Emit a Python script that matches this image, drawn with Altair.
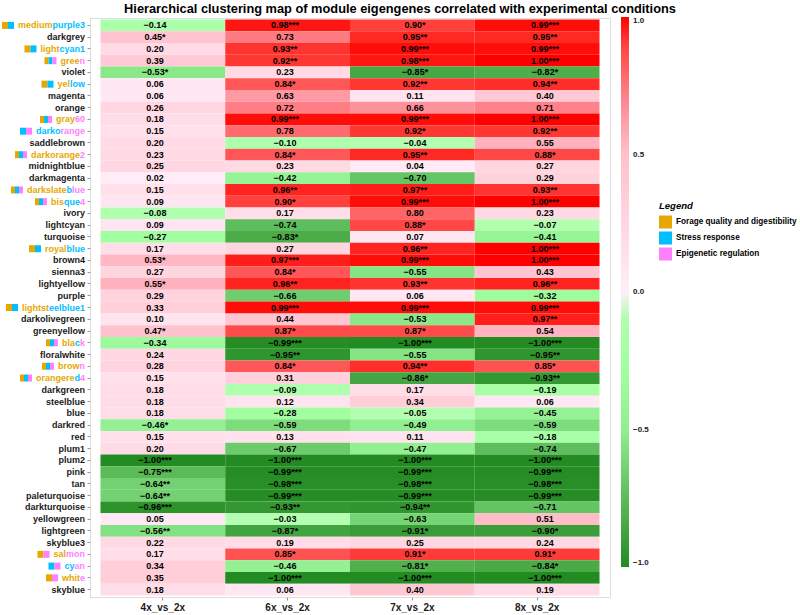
import altair as alt
import pandas as pd

# ---------------------------------------------------------------- data
modules = [
    "mediumpurple3", "darkgrey", "lightcyan1", "green", "violet", "yellow",
    "magenta", "orange", "gray60", "darkorange", "saddlebrown", "darkorange2",
    "midnightblue", "darkmagenta", "darkslateblue", "bisque4", "ivory",
    "lightcyan", "turquoise", "royalblue", "brown4", "sienna3", "lightyellow",
    "purple", "lightsteelblue1", "darkolivegreen", "greenyellow", "black",
    "floralwhite", "brown", "orangered4", "darkgreen", "steelblue", "blue",
    "darkred", "red", "plum1", "plum2", "pink", "tan", "paleturquoise",
    "darkturquoise", "yellowgreen", "lightgreen", "skyblue3", "salmon", "cyan",
    "white", "skyblue",
]
conditions = ["4x_vs_2x", "6x_vs_2x", "7x_vs_2x", "8x_vs_2x"]

r_4x = [-0.14, 0.45, 0.20, 0.39, -0.53, 0.06, 0.06, 0.26, 0.18, 0.15, 0.20,
        0.23, 0.25, 0.02, 0.15, 0.09, -0.08, 0.09, -0.27, 0.17, 0.53, 0.27,
        0.55, 0.29, 0.33, 0.10, 0.47, -0.34, 0.24, 0.28, 0.15, 0.18, 0.18,
        0.18, -0.46, 0.15, 0.20, -1.00, -0.75, -0.64, -0.64, -0.96, 0.05,
        -0.56, 0.22, 0.17, 0.34, 0.35, 0.18]
r_6x = [0.98, 0.73, 0.93, 0.92, 0.23, 0.84, 0.63, 0.72, 0.99, 0.78, -0.10,
        0.84, 0.23, -0.42, 0.96, 0.90, 0.17, -0.74, -0.83, 0.27, 0.97, 0.84,
        0.96, -0.66, 0.99, 0.44, 0.87, -0.99, -0.95, 0.84, 0.31, -0.09, 0.12,
        -0.28, -0.59, 0.13, -0.67, -1.00, -0.99, -0.98, -0.99, -0.93, -0.03,
        -0.87, 0.19, 0.85, -0.46, -1.00, 0.06]
r_7x = [0.90, 0.95, 0.99, 0.98, -0.85, 0.92, 0.11, 0.66, 0.99, 0.92, -0.04,
        0.95, 0.04, -0.70, 0.97, 0.99, 0.80, 0.88, 0.07, 0.96, 0.99, -0.55,
        0.93, 0.06, 0.99, -0.53, 0.87, -1.00, -0.55, 0.94, -0.86, 0.17, 0.34,
        -0.05, -0.49, 0.11, -0.47, -1.00, -0.99, -0.98, -0.99, -0.94, -0.63,
        -0.91, 0.25, 0.91, -0.81, -1.00, 0.40]
r_8x = [0.99, 0.95, 0.99, 1.00, -0.82, 0.94, 0.40, 0.71, 1.00, 0.92, 0.55,
        0.88, 0.27, 0.29, 0.93, 1.00, 0.23, -0.07, -0.41, 1.00, 1.00, 0.43,
        0.96, -0.32, 0.99, 0.97, 0.54, -1.00, -0.95, 0.85, -0.93, -0.19, 0.06,
        -0.45, -0.59, -0.18, -0.74, -1.00, -0.99, -0.98, -0.99, -0.71, 0.51,
        -0.90, 0.24, 0.91, -0.84, -1.00, 0.19]

sig_4x = ["", "*", "", "", "*", "", "", "", "", "", "", "", "", "", "", "",
          "", "", "", "", "*", "", "*", "", "", "", "*", "", "", "", "", "",
          "", "", "*", "", "", "***", "***", "**", "**", "***", "", "**", "",
          "", "", "", ""]
sig_6x = ["***", "", "**", "**", "", "*", "", "", "***", "", "", "*", "", "",
          "**", "*", "", "", "*", "", "***", "*", "**", "", "***", "", "*",
          "***", "**", "*", "", "", "", "", "", "", "", "***", "***", "***",
          "***", "**", "", "*", "", "*", "", "***", ""]
sig_7x = ["*", "**", "***", "***", "*", "**", "", "", "***", "*", "", "**", "",
          "", "**", "***", "", "*", "", "**", "***", "", "**", "", "***", "",
          "*", "***", "", "**", "*", "", "", "", "", "", "", "***", "***",
          "***", "***", "**", "", "*", "", "*", "*", "***", ""]
sig_8x = ["***", "**", "***", "***", "*", "**", "", "", "***", "**", "", "*",
          "", "", "**", "***", "", "", "", "***", "***", "", "**", "", "***",
          "**", "", "***", "**", "*", "**", "", "", "", "", "", "", "***",
          "***", "***", "***", "", "", "*", "", "*", "*", "***", ""]

# functional categories of modules
cat_names = ["Forage quality and digestibility", "Stress response",
             "Epigenetic regulation"]
cat_colors = ["#E6A700", "#00BFFF", "#FF80FF"]
F, S, E = cat_names

module_groups = {
    "mediumpurple3": [F, S], "lightcyan1": [F, S], "green": [F, S, E],
    "yellow": [F, S], "gray60": [F, S, E], "darkorange": [S, E],
    "darkorange2": [F, S, E], "darkslateblue": [F, S, E],
    "bisque4": [F, S, E], "royalblue": [F, S], "lightsteelblue1": [F, S],
    "black": [F, S, E], "brown": [F, S, E], "orangered4": [F, S, E],
    "salmon": [F, E], "cyan": [S, E], "white": [F, E],
}

# coloured pieces of the module names
label_parts = {
    "mediumpurple3": [("medium", F), ("purple3", S)],
    "lightcyan1": [("light", F), ("cyan1", S)],
    "green": [("gree", F), ("n", E)],
    "yellow": [("yel", F), ("low", S)],
    "gray60": [("gray", F), ("60", E)],
    "darkorange": [("darko", S), ("range", E)],
    "darkorange2": [("darkorange", F), ("2", E)],
    "darkslateblue": [("darkslate", F), ("b", S), ("lue", E)],
    "bisque4": [("bis", F), ("que", S), ("4", E)],
    "royalblue": [("royal", F), ("blue", S)],
    "lightsteelblue1": [("lightst", F), ("eelblue1", S)],
    "black": [("bla", F), ("c", S), ("k", E)],
    "brown": [("brow", F), ("n", E)],
    "orangered4": [("orangere", F), ("d", S), ("4", E)],
    "salmon": [("sal", F), ("mon", E)],
    "cyan": [("cy", S), ("an", E)],
    "white": [("whit", F), ("e", E)],
}

# ---------------------------------------------------------------- layout helpers
FONT = "Liberation Sans, Arial, Helvetica, sans-serif"
LABEL_SIZE = 9
LABEL_X = -5          # right edge of the row labels, relative to the panel
SWATCH_GAP = 4
SWATCH_W = 12
PLAIN = "#1A1A1A"

# Arial/Liberation Sans Bold advance widths (per 1000 em)
_adv = {c: 556 for c in "0123456789acekosvxy"}
_adv.update({"b": 611, "d": 611, "g": 611, "h": 611, "n": 611, "o": 611,
             "p": 611, "q": 611, "u": 611, "f": 333, "t": 333, "r": 389,
             "i": 278, "j": 278, "l": 278, "m": 889, "w": 778, "z": 500})


def text_width(s, size=LABEL_SIZE):
    return sum(_adv.get(ch, 556) for ch in s) * size / 1000.0


color_of = dict(zip(cat_names, cat_colors))

cells = []
for col, rs, ss in zip(conditions, [r_4x, r_6x, r_7x, r_8x],
                       [sig_4x, sig_6x, sig_7x, sig_8x]):
    for m, r, s in zip(modules, rs, ss):
        cells.append({"module": m, "condition": col, "r": r, "sig": s})
cells = pd.DataFrame(cells)

plain_labels = pd.DataFrame({"module": [m for m in modules
                                        if m not in label_parts]})

# multi-coloured names are written piece by piece, left to right
piece_rows = []
for m, parts in label_parts.items():
    x = LABEL_X - text_width(m)
    for txt, cat in parts:
        piece_rows.append({"module": m, "text": txt, "color": color_of[cat],
                           "px": x})
        x += text_width(txt)
pieces = pd.DataFrame(piece_rows)

swatch_rows = []
for m, groups in module_groups.items():
    right = LABEL_X - text_width(m) - SWATCH_GAP
    left = right - SWATCH_W
    step = SWATCH_W / len(groups)
    for i, g in enumerate(groups):
        swatch_rows.append({"module": m, "group": g,
                            "x0": left + i * step, "x1": left + (i + 1) * step})
swatches = pd.DataFrame(swatch_rows)

W, H = 520, 579

# ---------------------------------------------------------------- encodings
x_scale = alt.Scale(domain=conditions, paddingInner=0, paddingOuter=0.084)
X = alt.X("condition:N", scale=x_scale,
          axis=alt.Axis(title=None, labelAngle=0, domain=False, tickSize=3,
                        tickColor="#999999", labelFont=FONT, labelFontSize=10,
                        labelFontWeight="bold", labelColor="#1A1A1A",
                        labelPadding=2))
X_plain = alt.X("condition:N", scale=x_scale, axis=None)
Y = alt.Y("module:N",
          scale=alt.Scale(domain=modules, paddingInner=0, paddingOuter=0.13),
          axis=alt.Axis(title=None, labels=False, domain=False, tickSize=3,
                        tickColor="#999999"))

# pixel-space x for the row-label pieces and category swatches
px_scale = alt.Scale(domain=[0, W], range=[0, W], zero=False, nice=False)

heat = alt.Chart(cells).mark_rect().encode(
    x=X, y=Y,
    color=alt.Color(
        "r:Q",
        scale=alt.Scale(domain=[-1, -0.5, 0, 0.5, 1],
                        range=["#228B22", "#90EE90", "#FFFFFF", "#FFC0CB",
                               "#FF0000"]),
        legend=alt.Legend(orient="none", legendX=531, legendY=-1,
                          direction="vertical", title=None,
                          gradientLength=550, gradientThickness=8,
                          gradientStrokeWidth=0,
                          values=[1, 0.5, 0, -0.5, -1], format=".1f",
                          labelFont=FONT, labelFontSize=8,
                          labelFontWeight="bold", labelColor="#1A1A1A",
                          labelOffset=4)),
)

values = alt.Chart(cells).transform_calculate(
    lab="format(datum.r, '.2f') + datum.sig"
).mark_text(font=FONT, fontSize=9, fontWeight="bold", color="#000000",
            baseline="middle").encode(x=X_plain, y=Y, text="lab:N")

swatch = alt.Chart(swatches).mark_bar(size=7).encode(
    x=alt.X("x0:Q", scale=px_scale, axis=None), x2="x1:Q", y=Y,
    fill=alt.Fill(
        "group:N",
        scale=alt.Scale(domain=cat_names, range=cat_colors),
        legend=alt.Legend(orient="none", legendX=569, legendY=183,
                          title="Legend", titleFont=FONT, titleFontSize=9.5,
                          titleFontStyle="italic", titleFontWeight="bold",
                          titleColor="#000000", titlePadding=5,
                          symbolType="square", symbolSize=169,
                          symbolStrokeWidth=0, symbolOpacity=1,
                          labelFont=FONT, labelFontSize=8.2,
                          labelFontWeight="bold", labelColor="#000000",
                          labelOffset=4, labelLimit=400, rowPadding=3)),
)

plain = alt.Chart(plain_labels).mark_text(
    font=FONT, fontSize=LABEL_SIZE, fontWeight="bold", align="right",
    baseline="middle", color=PLAIN
).encode(x=alt.value(LABEL_X), y=Y, text="module:N")

piece_layers = []
for col in cat_colors:
    sub = pieces[pieces["color"] == col]
    piece_layers.append(
        alt.Chart(sub).mark_text(
            font=FONT, fontSize=LABEL_SIZE, fontWeight="bold",
            align="left", baseline="middle", color=col
        ).encode(x=alt.X("px:Q", scale=px_scale, axis=None), y=Y,
                 text="text:N")
    )

chart = alt.layer(heat, values, swatch, plain, *piece_layers).resolve_scale(
    x="independent"
).properties(
    width=W, height=H,
    autosize=alt.AutoSizeParams(type="none"),
    padding={"left": 90, "top": 18, "right": 190, "bottom": 18},
    title=alt.Title(
        "Hierarchical clustering map of module eigengenes correlated with experimental conditions",
        font="Liberation Sans Narrow, Arial Narrow, Liberation Sans, sans-serif",
        fontSize=12.8, fontWeight="bold", color="#000000", anchor="middle",
        dx=50, offset=1),
).configure_view(stroke="#A6A6A6", strokeWidth=1).configure(background="white")

chart.save("out.html", embed_options={"renderer": "svg", "actions": False})
